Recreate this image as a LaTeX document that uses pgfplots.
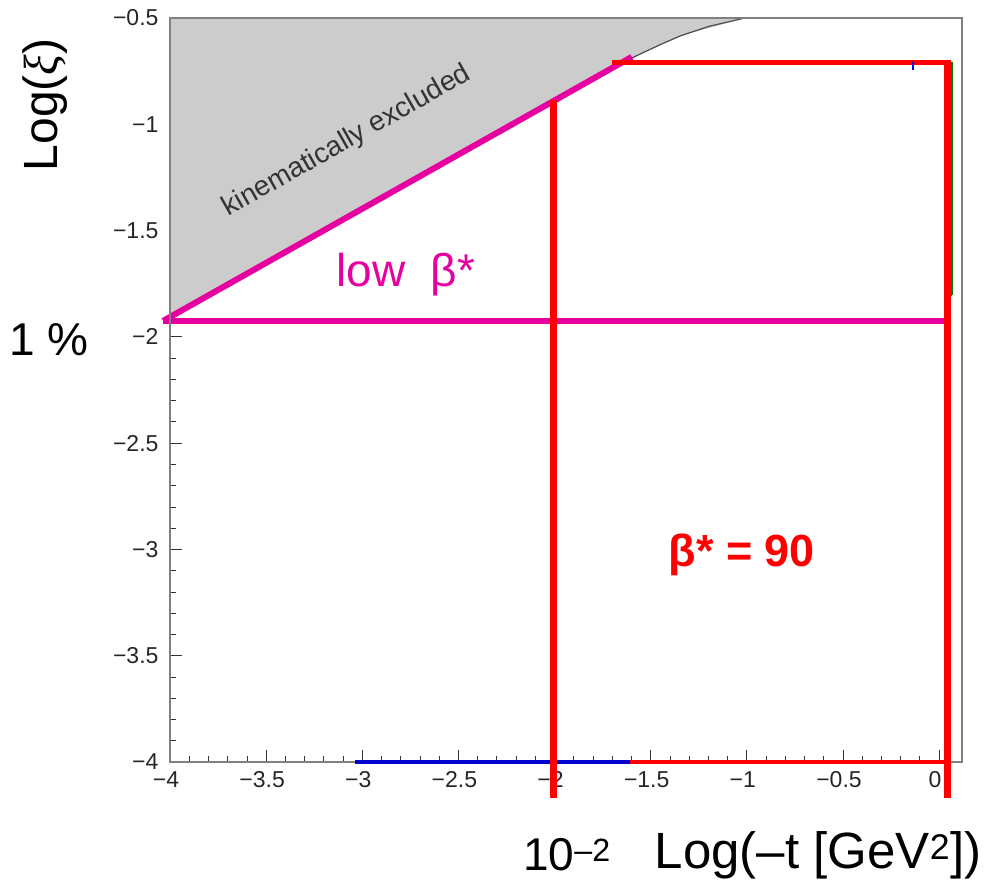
\documentclass[border=0pt]{standalone}
\usepackage{pgfplots}
\pgfplotsset{compat=1.18}
\usepackage{fontspec}
\setmainfont{Liberation Sans}
\newfontfamily\seriffont{Liberation Serif}
\definecolor{mag}{RGB}{230,0,160}
\definecolor{frm}{RGB}{128,128,128}
\begin{document}
\begin{tikzpicture}
\useasboundingbox (-170pt,-117pt) rectangle (820pt,762pt);
\begin{axis}[
  at={(0,0)}, anchor=south west,
  width=792pt, height=744pt, scale only axis,
  xmin=-4, xmax=0.119, ymin=-4, ymax=-0.5,
  clip=false,
  axis line style={draw=frm, line width=1.2pt},
  xtick={-4,-3.5,-3,-2.5,-2,-1.5,-1,-0.5,0},
  xticklabels={−4,−3.5,−3,−2.5,−2,−1.5,−1,−0.5,0},
  ytick={-4,-3.5,-3,-2.5,-2,-1.5,-1,-0.5},
  yticklabels={−4,−3.5,−3,−2.5,−2,−1.5,−1,−0.5},
  minor x tick num=4, minor y tick num=4,
  tick align=inside, major tick length=12pt, minor tick length=6pt,
  tick pos=left,
  tick style={black!80, line width=0.8pt},
  tick label style={font=\fontsize{23}{23}\selectfont, text=black!85},
  xticklabel style={yshift=-6pt, xshift=-4pt},
  yticklabel style={xshift=-8pt},
]
% kinematically excluded region
\addplot[fill=gray!40, draw=none] coordinates {(-4,-0.5) (-4,-1.902) (-1.598,-0.688) (-1.348,-0.585) (-1.010,-0.5)} -- cycle;
\addplot[black!70, line width=1.2pt] coordinates {(-1.598,-0.688) (-1.45,-0.625) (-1.348,-0.585) (-1.2,-0.54) (-1.010,-0.5)};
% bottom lines
\addplot[blue!80!black, line width=4pt] coordinates {(-3.038,-4.0) (-1.608,-4.0)};
\addplot[red, line width=4pt] coordinates {(-1.608,-4.0) (0.046,-4.0)};
% green thin line
\addplot[green!50!black, line width=1.5pt] coordinates {(0.066,-0.707) (0.066,-1.803)};
\addplot[green!50!black, line width=1.5pt] coordinates {(0.04,-1.803) (0.066,-1.803)};
% magenta lines
\addplot[mag, line width=6pt] coordinates {(-4.036,-1.925) (0.046,-1.925)};
\addplot[mag, line width=6pt] coordinates {(-4.036,-1.925) (-1.598,-0.683)};
% red lines
\addplot[red, line width=5pt] coordinates {(-1.70,-0.707) (0.062,-0.707)};
\addplot[red, line width=7pt] coordinates {(-2.003,-0.886) (-2.003,-4.17)};
\addplot[red, line width=7pt] coordinates {(0.046,-0.72) (0.046,-4.17)};
\addplot[blue, line width=2pt] coordinates {(-0.136,-0.707) (-0.136,-0.745)};
% texts
\node[rotate=29.5, text=black!80, font=\fontsize{28}{28}\selectfont] at (axis cs:-3.08,-1.08) {kinematically excluded};
\node[text=mag, font=\fontsize{46}{46}\selectfont] at (axis cs:-2.773,-1.709) {low\ \ β*};
\node[text=red, font=\fontsize{45}{45}\selectfont\bfseries] at (axis cs:-1.026,-3.026) {β* = 90};
\end{axis}
\draw[frm, line width=1.2pt] (0,0) -- (0,744pt) -- (792pt,744pt) -- (792pt,0);
\node[font=\fontsize{46}{46}\selectfont] at (-121pt,422pt) {1 \%};
\node[font=\fontsize{48}{48}\selectfont, rotate=90] at (-125pt,657pt) {Log({\seriffont\itshape ξ})};
\node[font=\fontsize{46}{46}\selectfont] at (397pt,-93pt) {10\textsuperscript{–2}};
\node[font=\fontsize{51}{51}\selectfont] at (648pt,-93pt) {Log(–t [GeV\textsuperscript{2}])};
\end{tikzpicture}
\end{document}
